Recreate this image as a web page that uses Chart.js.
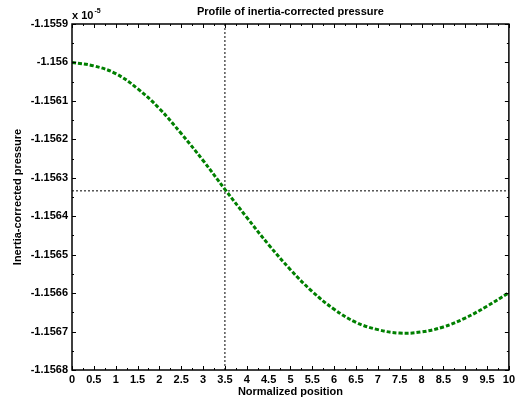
<!DOCTYPE html>
<html>
<head>
<meta charset="utf-8">
<script src="https://cdn.jsdelivr.net/npm/chart.js@4/dist/chart.umd.min.js"></script>
<style>
  html, body { margin: 0; padding: 0; background: #fff; }
  #wrap { width: 518px; height: 402px; }
</style>
</head>
<body>
<div id="wrap"><canvas id="myChart" width="518" height="402"></canvas></div>
<script>
// values are in units of 1e-5 (shown as "x 10^-5" above the axis)
const positions = [0, 0.5, 1, 1.5, 2, 2.5, 3, 3.5, 4, 4.5, 5, 5.5, 6, 6.5, 7, 7.5, 8, 8.5, 9, 9.5, 10];
const pressure = [-1.156000, -1.156009, -1.156029, -1.156068, -1.156120, -1.156185, -1.156255, -1.156330,
                  -1.156403, -1.156474, -1.156539, -1.156596, -1.156642, -1.156676, -1.156695, -1.156704,
                  -1.156701, -1.156688, -1.156665, -1.156634, -1.156599];

// crosshair marker
const crossX = 3.5;
const crossY = -1.156334;

// axis ranges / ticks
const xMin = 0, xMax = 10, xStep = 0.5;
const yMin = -1.1568, yMax = -1.1559, yStep = 0.0001;

const fontMain = "'Liberation Sans', Arial, sans-serif";

let curve = positions.map((p, i) => ({x: p, y: pressure[i]}));

// frame + inward ticks like matlab
const framePlugin = {
    id: 'frame',
    afterDraw(chart) {
        const ctx = chart.ctx;
        const a = chart.chartArea;
        const xs = chart.scales.x;
        const ys = chart.scales.y;
        ctx.save();
        ctx.strokeStyle = '#000';
        ctx.lineWidth = 1;
        // x ticks (major every 0.5, minor every 0.25)
        for (let v = xMin; v <= xMax + 1e-9; v += xStep / 2) {
            const major = Math.abs(v / xStep - Math.round(v / xStep)) < 1e-6;
            const len = major ? 4 : 2;
            const px = Math.round(xs.getPixelForValue(v)) + 0.5;
            ctx.beginPath();
            ctx.moveTo(px, a.bottom); ctx.lineTo(px, a.bottom - len);
            ctx.moveTo(px, a.top); ctx.lineTo(px, a.top + len);
            ctx.stroke();
        }
        // y ticks
        for (let k = 0; k <= 18; k++) {
            const v = yMin + k * yStep / 2;
            const len = (k % 2 == 0) ? 4 : 2;
            const py = Math.round(ys.getPixelForValue(v)) + 0.5;
            ctx.beginPath();
            ctx.moveTo(a.left, py); ctx.lineTo(a.left + len, py);
            ctx.moveTo(a.right, py); ctx.lineTo(a.right - len, py);
            ctx.stroke();
        }
        // box
        ctx.lineWidth = 1.5;
        ctx.strokeRect(a.left, a.top, a.right - a.left, a.bottom - a.top);

        // title
        ctx.fillStyle = '#000';
        ctx.font = 'bold 11px ' + fontMain;
        ctx.textAlign = 'center';
        ctx.textBaseline = 'middle';
        ctx.fillText('Profile of inertia-corrected pressure', (a.left + a.right) / 2, 12);

        // exponent note
        ctx.textAlign = 'left';
        ctx.textBaseline = 'alphabetic';
        ctx.fillText('x 10', a.left, 19);
        const w = ctx.measureText('x 10').width;
        ctx.font = 'bold 7px ' + fontMain;
        ctx.fillText('-5', a.left + w + 1, 13);
        ctx.restore();
    }
};

const ctx = document.getElementById('myChart');

myChart = new Chart(ctx, {
    type: 'line',
    data: {
        datasets: [
            {
                label: 'pressure',
                data: curve,
                borderColor: 'rgb(0,128,0)',
                borderWidth: 3,
                borderDash: [4, 2],
                pointRadius: 0,
                tension: 0.4,
                fill: false
            },
            {
                label: 'vline',
                data: [{x: crossX, y: yMin}, {x: crossX, y: yMax}],
                borderColor: '#000',
                borderWidth: 1,
                borderDash: [2, 2],
                pointRadius: 0
            },
            {
                label: 'hline',
                data: [{x: xMin, y: crossY}, {x: xMax, y: crossY}],
                borderColor: '#000',
                borderWidth: 1,
                borderDash: [2, 2],
                pointRadius: 0
            }
        ]
    },
    options: {
        responsive: false,
        animation: false,
        layout: { padding: { left: 0, right: 9, top: 24, bottom: 0 } },
        plugins: {
            legend: { display: false },
            tooltip: { enabled: false }
        },
        scales: {
            x: {
                type: 'linear',
                min: xMin,
                max: xMax,
                grid: { display: false, drawTicks: false },
                border: { display: false },
                ticks: {
                    stepSize: xStep,
                    padding: 3,
                    color: '#000',
                    maxRotation: 0,
                    autoSkip: false,
                    font: { family: fontMain, size: 11, weight: 'bold' },
                    callback: (v) => String(parseFloat(v.toFixed(2)))
                },
                title: {
                    display: true,
                    text: 'Normalized position',
                    color: '#000',
                    padding: { top: 0, bottom: 3 },
                    font: { family: fontMain, size: 11, weight: 'bold' }
                },
                afterFit: (s) => { s.height = 32; }
            },
            y: {
                type: 'linear',
                min: yMin,
                max: yMax,
                grid: { display: false, drawTicks: false },
                border: { display: false },
                ticks: {
                    stepSize: yStep,
                    padding: 4,
                    color: '#000',
                    autoSkip: false,
                    font: { family: fontMain, size: 11, weight: 'bold' },
                    callback: (v) => String(parseFloat(v.toFixed(4)))
                },
                title: {
                    display: true,
                    text: 'Inertia-corrected pressure',
                    color: '#000',
                    padding: { top: 11, bottom: 0 },
                    font: { family: fontMain, size: 11, weight: 'bold' }
                },
                afterFit: (s) => { s.width = 72; }
            }
        }
    },
    plugins: [framePlugin]
});
</script>
</body>
</html>
